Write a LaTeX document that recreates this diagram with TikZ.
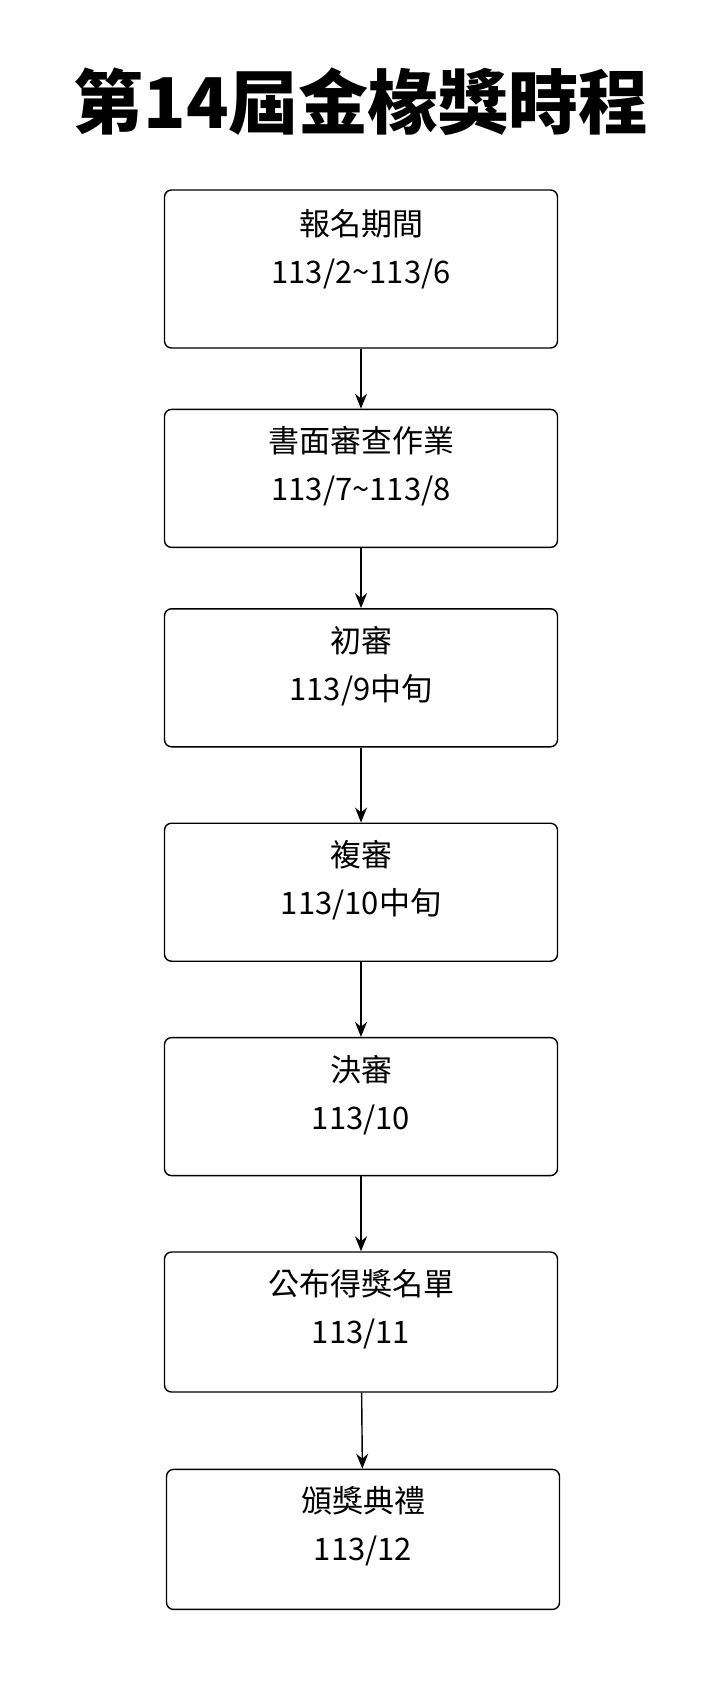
\documentclass[tikz,border=0pt]{standalone}
\usepackage{fontspec}
\setmainfont{Liberation Sans}
\newfontfamily\cjk{Noto Sans CJK TC}
\usetikzlibrary{arrows.meta,positioning}
\tikzset{stage/.style={rectangle, draw, line width=1.4pt, rounded corners=7pt,
    minimum width=393pt, minimum height=138pt, inner sep=0pt},
  lbl/.style={anchor=north, align=center, font=\fontsize{31}{48}\selectfont\cjk}}
\begin{document}
\begin{tikzpicture}[x=1pt,y=-1pt,>={Stealth[length=15pt,width=12pt]},line width=1.4pt]
  \useasboundingbox (0,0) rectangle (722,1684);
  \node[font=\fontsize{70}{76}\selectfont\cjk\bfseries] (title) at (361,102) {第14屆金椽獎時程};

  \node[stage, minimum height=158pt] (s1) at (361,269)  {};
  \node[stage] (s2) [below=60pt of s1] {};
  \node[stage] (s3) [below=60pt of s2] {};
  \node[stage] (s4) [below=75pt of s3] {};
  \node[stage] (s5) [below=75pt of s4] {};
  \node[stage, minimum height=140pt] (s6) [below=75pt of s5] {};
  \node[stage, minimum height=140pt] (s7) [below=76pt of s6, xshift=2pt] {};

  \node[lbl] (t1) at ([yshift=-16pt]s1.north) {報名期間\\113/2\textasciitilde113/6};
  \node[lbl] (t2) at ([yshift=-14pt]s2.north) {書面審查作業\\113/7\textasciitilde113/8};
  \node[lbl] (t3) at ([yshift=-14pt]s3.north) {初審\\113/9中旬};
  \node[lbl] (t4) at ([yshift=-14pt]s4.north) {複審\\113/10中旬};
  \node[lbl] (t5) at ([yshift=-14pt]s5.north) {決審\\113/10};
  \node[lbl] (t6) at ([yshift=-14pt]s6.north) {公布得獎名單\\113/11};
  \node[lbl] (t7) at ([yshift=-14pt]s7.north) {頒獎典禮\\113/12};

  \foreach \a/\b in {s1/s2,s2/s3,s3/s4,s4/s5,s5/s6,s6/s7}
    \draw[->] (\a) -- (\b);
\end{tikzpicture}
\end{document}
